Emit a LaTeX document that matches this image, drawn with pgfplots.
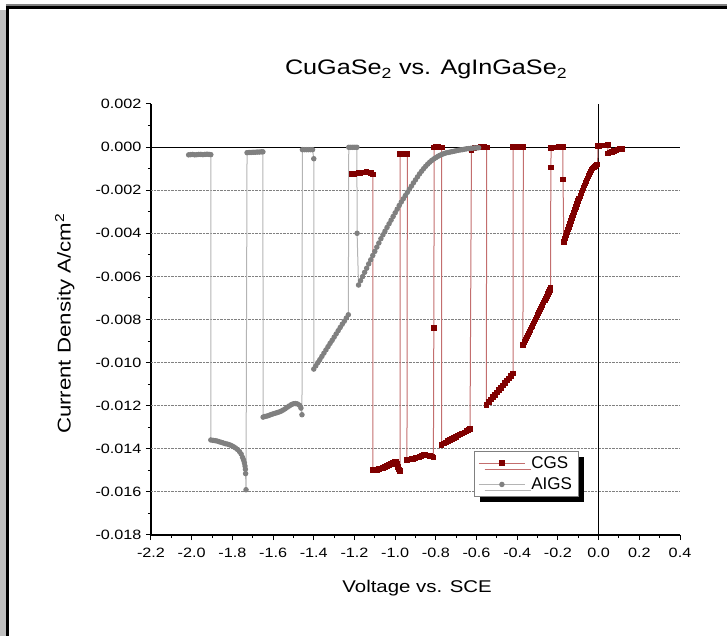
\documentclass[border=0pt]{standalone}
\usepackage{fontspec}
\setmainfont{Liberation Sans}[FakeStretch=1.2]
\newfontfamily\legfont{Liberation Sans}
\usepackage{pgfplots}
\pgfplotsset{compat=1.18}
\usetikzlibrary{shadows}

\definecolor{cgsmark}{RGB}{128,0,0}
\definecolor{cgsline}{RGB}{195,110,110}
\definecolor{aigsmark}{RGB}{128,128,128}
\definecolor{aigsline}{RGB}{180,180,180}

\begin{document}
\begin{tikzpicture}
\begin{axis}[
    scale only axis,
    width=529pt, height=431pt,
    xmin=-2.2, xmax=0.4, ymin=-0.018, ymax=0.002,
    axis lines*=left,
    axis line style={line width=1.2pt},
    tick align=outside,
    major tick length=5pt, minor tick length=3pt,
    every tick/.style={black, line width=1pt},
    xtick={-2.2,-2.0,-1.8,-1.6,-1.4,-1.2,-1.0,-0.8,-0.6,-0.4,-0.2,0,0.2,0.4},
    ytick={-0.018,-0.016,-0.014,-0.012,-0.010,-0.008,-0.006,-0.004,-0.002,0,0.002},
    minor x tick num=1, minor y tick num=1,
    scaled x ticks=false, scaled y ticks=false,
    /pgf/number format/assume math mode=true,
    xticklabel style={yshift=-5pt, /pgf/number format/.cd, fixed, fixed zerofill, precision=1},
    yticklabel style={xshift=-1pt, /pgf/number format/.cd, fixed, fixed zerofill, precision=3},
    tick label style={font=\fontsize{13.5}{15}\selectfont},
    extra y ticks={-0.016,-0.014,-0.012,-0.010,-0.008,-0.006,-0.004,-0.002},
    extra y tick labels={},
    extra y tick style={grid=major, major tick length=0pt},
    major grid style={gray, densely dotted, line width=0.9pt},
    title={CuGaSe\textsubscript{2} vs. AgInGaSe\textsubscript{2}},
    title style={at={(axis description cs:0.52,1)}, anchor=base, yshift=23pt, font=\fontsize{21}{25}\selectfont},
    xlabel={Voltage vs. SCE},
    ylabel={Current Density A/cm\textsuperscript{2}},
    every axis x label/.style={at={(axis description cs:0.503,0)}, anchor=center, yshift=-53pt, font=\fontsize{17}{20}\selectfont},
    every axis y label/.style={at={(axis description cs:-0.163,0.49)}, rotate=90, anchor=center, font=\fontsize{18.5}{22}\selectfont},
    legend style={at={(0.6106,0.1949)}, anchor=north west, draw=gray, line width=0.8pt, fill=white,
        font=\legfont\fontsize{17}{19}\selectfont, inner xsep=4pt, inner ysep=3pt, row sep=4pt,
        cells={anchor=west},
        drop shadow={shadow xshift=6pt, shadow yshift=-6pt, fill=black, opacity=1}},
    legend image code/.code={\draw[mark repeat=2, mark phase=2, #1] plot coordinates {(0pt,0pt) (23pt,0pt) (46pt,0pt)};},
]
\draw[black, line width=1.1pt] (axis cs:-2.2,0) -- (axis cs:0.4,0);
\draw[black, line width=1.1pt] (axis cs:0,-0.018) -- (axis cs:0,0.002);

% CGS
\addplot[color=cgsline, line width=1pt, mark=square*, mark size=2.3pt,
    mark options={solid, fill=cgsmark, draw=cgsmark}] coordinates {
(-1.212,-0.00126) (-1.20,-0.00125) (-1.19,-0.00123) (-1.18,-0.00121) (-1.17,-0.00119)
(-1.16,-0.00118) (-1.15,-0.00117) (-1.14,-0.00116) (-1.13,-0.00117) (-1.12,-0.00120) (-1.11,-0.00127)
(-1.109,-0.01497) (-1.10,-0.01500) (-1.09,-0.01497) (-1.08,-0.01495) (-1.07,-0.01492)
(-1.06,-0.01489) (-1.05,-0.01485) (-1.04,-0.01481) (-1.03,-0.01476) (-1.02,-0.01470)
(-1.01,-0.01464) (-1.00,-0.01459) (-0.995,-0.01462) (-0.99,-0.01470) (-0.985,-0.01485)
(-0.98,-0.01496) (-0.975,-0.01503)
(-0.975,-0.00032) (-0.965,-0.00031) (-0.955,-0.00030) (-0.945,-0.00030) (-0.940,-0.00031)
(-0.942,-0.01452) (-0.93,-0.01450) (-0.92,-0.01448) (-0.91,-0.01446) (-0.90,-0.01444)
(-0.89,-0.01441) (-0.88,-0.01437) (-0.87,-0.01433) (-0.86,-0.01430) (-0.85,-0.01429)
(-0.84,-0.01431) (-0.83,-0.01433) (-0.82,-0.01436) (-0.812,-0.01440)
(-0.810,-0.00840)
(-0.808,-0.00002) (-0.80,0.00000) (-0.79,0.00000) (-0.78,-0.00001) (-0.771,-0.00002)
(-0.772,-0.01382) (-0.76,-0.01375) (-0.75,-0.01370) (-0.74,-0.01364) (-0.73,-0.01359)
(-0.72,-0.01354) (-0.71,-0.01349) (-0.70,-0.01344) (-0.69,-0.01339) (-0.68,-0.01334)
(-0.67,-0.01329) (-0.66,-0.01324) (-0.65,-0.01318) (-0.64,-0.01313) (-0.632,-0.01308)
(-0.625,-0.00015) (-0.61,-0.00003) (-0.60,-0.00002) (-0.59,-0.00001) (-0.58,0.00000)
(-0.57,0.00000) (-0.56,0.00000) (-0.55,-0.00001)
(-0.552,-0.01196) (-0.54,-0.01183) (-0.53,-0.01172) (-0.52,-0.01161) (-0.51,-0.01150)
(-0.50,-0.01139) (-0.49,-0.01128) (-0.48,-0.01117) (-0.47,-0.01106) (-0.46,-0.01095)
(-0.45,-0.01084) (-0.44,-0.01073) (-0.43,-0.01062) (-0.42,-0.01050)
(-0.42,0.00000) (-0.41,0.00000) (-0.40,0.00000) (-0.39,0.00000) (-0.38,0.00000) (-0.37,0.00000)
(-0.372,-0.00918) (-0.365,-0.00905) (-0.36,-0.00896) (-0.355,-0.00886) (-0.35,-0.00877)
(-0.345,-0.00867) (-0.34,-0.00858) (-0.335,-0.00848) (-0.33,-0.00838) (-0.325,-0.00829)
(-0.32,-0.00819) (-0.315,-0.00809) (-0.31,-0.00800) (-0.305,-0.00790) (-0.30,-0.00780)
(-0.295,-0.00771) (-0.29,-0.00761) (-0.285,-0.00751) (-0.28,-0.00741) (-0.275,-0.00732)
(-0.27,-0.00722) (-0.265,-0.00712) (-0.26,-0.00702) (-0.255,-0.00693) (-0.25,-0.00683)
(-0.245,-0.00673) (-0.24,-0.00663) (-0.236,-0.00655)
(-0.235,-0.00095)
(-0.233,-0.00003) (-0.225,-0.00002) (-0.215,-0.00002) (-0.205,-0.00001) (-0.195,0.00000)
(-0.185,0.00000) (-0.176,0.00000)
(-0.175,-0.00151)
(-0.171,-0.00440) (-0.165,-0.00424) (-0.16,-0.00410) (-0.155,-0.00396) (-0.15,-0.00383)
(-0.145,-0.00370) (-0.14,-0.00357) (-0.135,-0.00344) (-0.13,-0.00330) (-0.125,-0.00317)
(-0.12,-0.00303) (-0.115,-0.00290) (-0.11,-0.00277) (-0.105,-0.00264) (-0.10,-0.00251)
(-0.095,-0.00238) (-0.09,-0.00226) (-0.085,-0.00214) (-0.08,-0.00202) (-0.075,-0.00190)
(-0.07,-0.00178) (-0.065,-0.00167) (-0.06,-0.00156) (-0.055,-0.00146) (-0.05,-0.00134)
(-0.045,-0.00124) (-0.04,-0.00115) (-0.035,-0.00107) (-0.03,-0.00100) (-0.025,-0.00095)
(-0.02,-0.00091) (-0.015,-0.00087) (-0.01,-0.00084) (-0.005,-0.00081)
(-0.003,0.00005) (0.005,0.00006) (0.015,0.00007) (0.025,0.00007) (0.035,0.00008) (0.045,0.00010)
(0.045,-0.00030) (0.055,-0.00026) (0.065,-0.00022) (0.075,-0.00018) (0.085,-0.00015)
(0.095,-0.00012) (0.105,-0.00010) (0.115,-0.00008)
};
\addlegendentry{\hspace{4pt}CGS\hspace{10pt}}

% AIGS
\addplot[color=aigsline, line width=1pt, mark=*, mark size=2.2pt,
    mark options={solid, fill=aigsmark, draw=aigsmark}] coordinates {
(-2.015,-0.00036) (-2.005,-0.00035) (-1.995,-0.00034) (-1.985,-0.00036) (-1.975,-0.00035)
(-1.965,-0.00034) (-1.955,-0.00034) (-1.945,-0.00035) (-1.935,-0.00034) (-1.925,-0.00033)
(-1.915,-0.00034) (-1.906,-0.00035)
(-1.906,-0.01359) (-1.895,-0.01361) (-1.885,-0.01362) (-1.875,-0.01364) (-1.865,-0.01367)
(-1.855,-0.01370) (-1.845,-0.01373) (-1.835,-0.01376) (-1.825,-0.01378) (-1.815,-0.01381)
(-1.805,-0.01385) (-1.795,-0.01390) (-1.785,-0.01396) (-1.775,-0.01403) (-1.765,-0.01413)
(-1.757,-0.01424) (-1.750,-0.01440) (-1.745,-0.01452) (-1.741,-0.01465) (-1.738,-0.01480)
(-1.736,-0.01495) (-1.735,-0.01515) (-1.733,-0.01590)
(-1.728,-0.00026) (-1.718,-0.00025) (-1.708,-0.00025) (-1.698,-0.00024) (-1.688,-0.00024)
(-1.678,-0.00023) (-1.668,-0.00023) (-1.658,-0.00022) (-1.650,-0.00022)
(-1.649,-0.01253) (-1.64,-0.01250) (-1.63,-0.01248) (-1.62,-0.01245) (-1.61,-0.01241)
(-1.60,-0.01238) (-1.59,-0.01235) (-1.58,-0.01232) (-1.57,-0.01229) (-1.56,-0.01225)
(-1.55,-0.01220) (-1.54,-0.01214) (-1.53,-0.01207) (-1.52,-0.01201) (-1.51,-0.01195)
(-1.50,-0.01191) (-1.49,-0.01190) (-1.48,-0.01192) (-1.47,-0.01198) (-1.463,-0.01211)
(-1.458,-0.01242)
(-1.456,-0.00012) (-1.446,-0.00012) (-1.436,-0.00012) (-1.426,-0.00012) (-1.416,-0.00012)
(-1.406,-0.00012) (-1.400,-0.00054)
(-1.40,-0.01030) (-1.39,-0.01015) (-1.38,-0.01000) (-1.37,-0.00986) (-1.36,-0.00971)
(-1.35,-0.00956) (-1.34,-0.00941) (-1.33,-0.00926) (-1.32,-0.00911) (-1.31,-0.00897)
(-1.30,-0.00882) (-1.29,-0.00867) (-1.28,-0.00852) (-1.27,-0.00837) (-1.26,-0.00822)
(-1.25,-0.00808) (-1.24,-0.00793) (-1.23,-0.00778)
(-1.228,-0.00001) (-1.218,-0.00001) (-1.208,-0.00001) (-1.198,-0.00001) (-1.188,-0.00001)
(-1.187,-0.00400)
(-1.18,-0.00640) (-1.17,-0.00620) (-1.16,-0.00601) (-1.15,-0.00581) (-1.14,-0.00562)
(-1.13,-0.00542) (-1.12,-0.00523) (-1.11,-0.00503) (-1.10,-0.00484) (-1.09,-0.00464)
(-1.08,-0.00445) (-1.07,-0.00425) (-1.06,-0.00407) (-1.05,-0.00390) (-1.04,-0.00373)
(-1.03,-0.00356) (-1.02,-0.00339) (-1.01,-0.00322) (-1.00,-0.00305) (-0.99,-0.00288)
(-0.98,-0.00271) (-0.97,-0.00255) (-0.96,-0.00240) (-0.95,-0.00225) (-0.94,-0.00210)
(-0.93,-0.00195) (-0.92,-0.00181) (-0.91,-0.00166) (-0.90,-0.00152) (-0.89,-0.00138)
(-0.88,-0.00124) (-0.87,-0.00112) (-0.86,-0.00100) (-0.85,-0.00089) (-0.84,-0.00079)
(-0.83,-0.00070) (-0.82,-0.00062) (-0.81,-0.00055) (-0.80,-0.00049) (-0.79,-0.00043)
(-0.78,-0.00038) (-0.77,-0.00034) (-0.76,-0.00030) (-0.75,-0.00027) (-0.74,-0.00025)
(-0.73,-0.00023) (-0.72,-0.00021) (-0.71,-0.00019) (-0.70,-0.00017) (-0.69,-0.00015)
(-0.68,-0.00013) (-0.67,-0.00012) (-0.66,-0.00010) (-0.65,-0.00008) (-0.64,-0.00007)
(-0.63,-0.00006) (-0.62,-0.00005) (-0.61,-0.00004) (-0.60,-0.00004) (-0.59,-0.00003)
};
\addlegendentry{\hspace{4pt}AIGS}
\end{axis}
\pgfresetboundingbox
\path[use as bounding box] (-151pt,-101pt) rectangle (576pt,535pt);
\fill[gray!50] (-151pt,-101pt) rectangle (-145pt,525pt);
\draw[gray, line width=1.2pt] (-145pt,530pt) -- (576pt,530pt);
\draw[black, line width=3pt] (-145pt,527.5pt) -- (576pt,527.5pt);
\draw[black, line width=3.3pt] (-143.3pt,529pt) -- (-143.3pt,-101pt);
\end{tikzpicture}
\end{document}
